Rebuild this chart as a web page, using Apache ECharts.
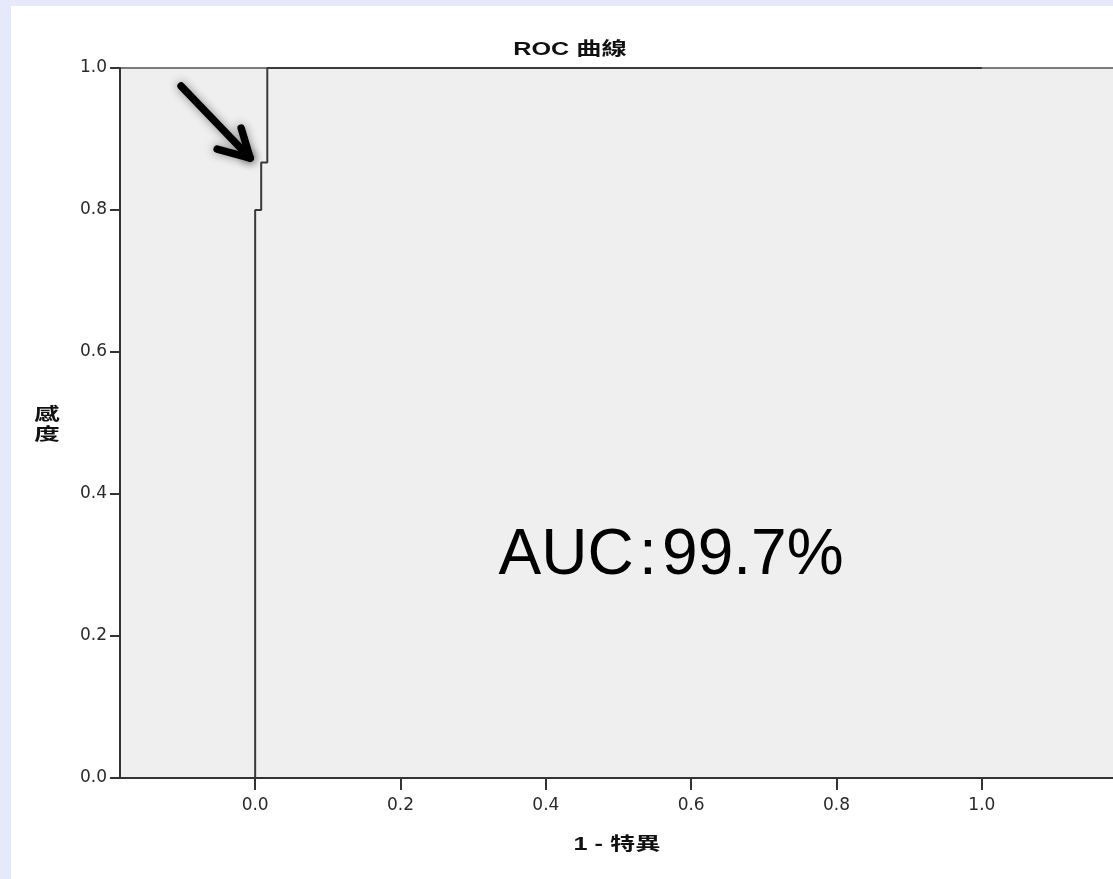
<!DOCTYPE html>
<html>
<head>
<meta charset="utf-8">
<script src="https://cdn.jsdelivr.net/npm/echarts@6/dist/echarts.min.js"></script>
<style>
  html, body { margin: 0; padding: 0; width: 1113px; height: 879px; background: #e5e9fa; overflow: hidden; }
  #main { position: absolute; left: 11px; top: 6px; width: 1106px; height: 873px; background: #ffffff; }
</style>
</head>
<body>
<div id="main"></div>
<script>
// ---- data ----
const titleText = 'ROC 曲線';
const xAxisName = '1 - 特異';
const yAxisName = '感度';
const aucText = 'AUC\u200A:\u200A99.7%';
// ROC curve points (1 - specificity, sensitivity)
const fpr = [0, 0, 0.0083, 0.0083, 0.0167, 0.0167, 1.0];
const tpr = [0, 0.80, 0.80, 0.867, 0.867, 1.0, 1.0];
const xTicks = [0, 0.2, 0.4, 0.6, 0.8, 1.0];
const yTicks = [0, 0.2, 0.4, 0.6, 0.8, 1.0];
const xRange = [-0.186, 1.186];
const yRange = [0, 1];
// annotation arrow segments in data coordinates: [[x1,y1],[x2,y2]]
const arrowSegments = [
  [[-0.1019, 0.9746], [-0.0069, 0.8732]],
  [[-0.0193, 0.9155], [-0.0069, 0.8732]],
  [[-0.0523, 0.8859], [-0.0069, 0.8732]]
];

const chart = echarts.init(document.getElementById('main'), null, { renderer: 'canvas' });
const tickFont = { fontFamily: 'DejaVu Sans', fontSize: 17, color: '#2a2a2a' };

const option = {
  animation: false,
  grid: {
    left: 109, top: 62, bottom: 101, right: 0,
    show: true, backgroundColor: '#efefef', borderColor: '#7a7a7a', borderWidth: 2
  },
  xAxis: {
    type: 'value', min: xRange[0], max: xRange[1],
    axisLine: { show: true, onZero: false, lineStyle: { color: '#333', width: 2 } },
    axisTick: { show: true, length: 12, customValues: xTicks, lineStyle: { color: '#333', width: 2 } },
    axisLabel: Object.assign({ customValues: xTicks, margin: 19, formatter: v => v.toFixed(1) }, tickFont),
    splitLine: { show: false }
  },
  yAxis: {
    type: 'value', min: yRange[0], max: yRange[1], interval: 0.2,
    axisLine: { show: true, onZero: false, lineStyle: { color: '#333', width: 2 } },
    axisTick: { show: true, length: 10, lineStyle: { color: '#333', width: 2 } },
    axisLabel: Object.assign({ margin: 13, formatter: v => v.toFixed(1) }, tickFont),
    splitLine: { show: false }
  },
  series: [{
    type: 'line',
    data: fpr.map((x, i) => [x, tpr[i]]),
    showSymbol: false,
    symbol: 'none',
    lineStyle: { color: '#3a3a3a', width: 2 },
    z: 3,
    markLine: {
      silent: true,
      symbol: ['none', 'none'],
      label: { show: false },
      lineStyle: {
        color: '#000', width: 7.5, type: 'solid', cap: 'round', join: 'round',
        shadowBlur: 10, shadowColor: 'rgba(0,0,0,0.45)'
      },
      emphasis: { disabled: true },
      data: arrowSegments.map(s => [{ coord: s[0] }, { coord: s[1] }])
    }
  }],
  graphic: [
    {
      type: 'text', x: 559, y: 44, scaleX: 1.4, silent: true,
      style: { text: titleText, align: 'center', verticalAlign: 'middle',
        font: 'bold 18px "Liberation Sans", "Noto Sans CJK TC"', fill: '#111' }
    },
    {
      type: 'text', x: 606, y: 839, scaleX: 1.4, silent: true,
      style: { text: xAxisName, align: 'center', verticalAlign: 'middle',
        font: 'bold 18px "Liberation Sans", "Noto Sans CJK TC"', fill: '#111' }
    },
    {
      type: 'text', x: 36, y: 418, scaleX: 1.5, silent: true,
      style: { text: yAxisName.split('').join('\n'), align: 'center', verticalAlign: 'middle',
        lineHeight: 20,
        font: 'bold 17px "Noto Sans CJK TC"', fill: '#111' }
    },
    {
      type: 'text', x: 660, y: 550, silent: true, z: 10,
      style: { text: aucText, align: 'center', verticalAlign: 'middle',
        font: '64px "Liberation Sans", Arial, sans-serif', fill: '#000' }
    }
  ]
};
chart.setOption(option);
</script>
</body>
</html>
